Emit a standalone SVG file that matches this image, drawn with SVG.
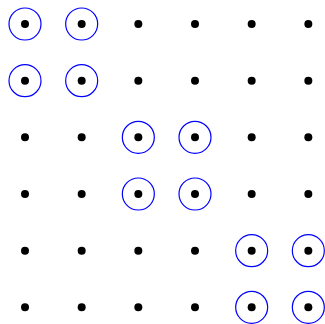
<svg xmlns="http://www.w3.org/2000/svg" width="325" height="324" viewBox="0 0 325 324">
<style>
.d{fill:#000}
.r{fill:none;stroke:#0000ff;stroke-width:1.2}
</style>
<rect width="325" height="324" fill="#fff"/>
<g id="rings">
<circle class="r" cx="25" cy="24" r="16"/><circle class="r" cx="81.67" cy="24" r="16"/>
<circle class="r" cx="25" cy="80.67" r="16"/><circle class="r" cx="81.67" cy="80.67" r="16"/>
<circle class="r" cx="138.33" cy="137.33" r="16"/><circle class="r" cx="195" cy="137.33" r="16"/>
<circle class="r" cx="138.33" cy="194" r="16"/><circle class="r" cx="195" cy="194" r="16"/>
<circle class="r" cx="251.67" cy="250.67" r="16"/><circle class="r" cx="308.33" cy="250.67" r="16"/>
<circle class="r" cx="251.67" cy="307.33" r="16"/><circle class="r" cx="308.33" cy="307.33" r="16"/>
</g>
<g id="dots">
<circle class="d" cx="25" cy="24" r="4"/><circle class="d" cx="81.67" cy="24" r="4"/><circle class="d" cx="138.33" cy="24" r="4"/><circle class="d" cx="195" cy="24" r="4"/><circle class="d" cx="251.67" cy="24" r="4"/><circle class="d" cx="308.33" cy="24" r="4"/>
<circle class="d" cx="25" cy="80.67" r="4"/><circle class="d" cx="81.67" cy="80.67" r="4"/><circle class="d" cx="138.33" cy="80.67" r="4"/><circle class="d" cx="195" cy="80.67" r="4"/><circle class="d" cx="251.67" cy="80.67" r="4"/><circle class="d" cx="308.33" cy="80.67" r="4"/>
<circle class="d" cx="25" cy="137.33" r="4"/><circle class="d" cx="81.67" cy="137.33" r="4"/><circle class="d" cx="138.33" cy="137.33" r="4"/><circle class="d" cx="195" cy="137.33" r="4"/><circle class="d" cx="251.67" cy="137.33" r="4"/><circle class="d" cx="308.33" cy="137.33" r="4"/>
<circle class="d" cx="25" cy="194" r="4"/><circle class="d" cx="81.67" cy="194" r="4"/><circle class="d" cx="138.33" cy="194" r="4"/><circle class="d" cx="195" cy="194" r="4"/><circle class="d" cx="251.67" cy="194" r="4"/><circle class="d" cx="308.33" cy="194" r="4"/>
<circle class="d" cx="25" cy="250.67" r="4"/><circle class="d" cx="81.67" cy="250.67" r="4"/><circle class="d" cx="138.33" cy="250.67" r="4"/><circle class="d" cx="195" cy="250.67" r="4"/><circle class="d" cx="251.67" cy="250.67" r="4"/><circle class="d" cx="308.33" cy="250.67" r="4"/>
<circle class="d" cx="25" cy="307.33" r="4"/><circle class="d" cx="81.67" cy="307.33" r="4"/><circle class="d" cx="138.33" cy="307.33" r="4"/><circle class="d" cx="195" cy="307.33" r="4"/><circle class="d" cx="251.67" cy="307.33" r="4"/><circle class="d" cx="308.33" cy="307.33" r="4"/>
</g>
</svg>
